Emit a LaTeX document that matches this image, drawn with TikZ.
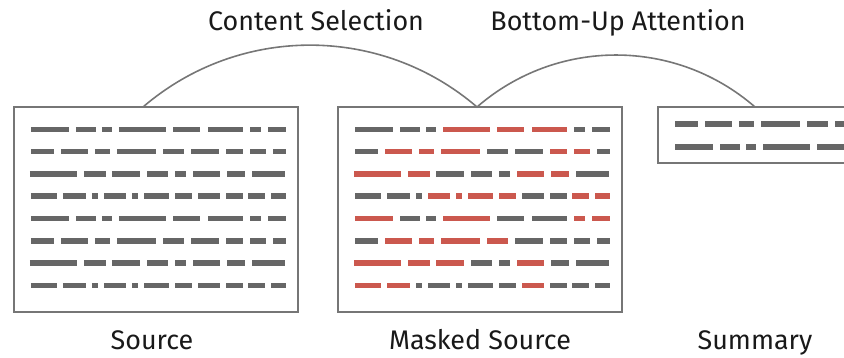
\documentclass[tikz,border=0pt]{standalone}
\usepackage{fontspec}
\setmainfont{Fira Sans}
\usepackage{tikz}
\usetikzlibrary{positioning}

\definecolor{boxgray}{RGB}{118,118,118}
\definecolor{wordgray}{RGB}{102,102,102}
\definecolor{maskred}{RGB}{203,88,78}

\newcommand\rowa{17/55,62/82,88/98,105/152,159/186,194/229,236/247,254/272}
\newcommand\rowb{17/40,47/74,81/96,103/142,149/170,177/205,212/229,236/252,259/272}
\newcommand\rowc{16/63,70/92,98/126,133/154,161/172,179/206,213/231,238/271}
\newcommand\rowd{17/43,49/72,78/84,90/112,118/124,130/155,161/178,184/206,212/229,234/251,257/272}
\newcommand\nomask{0,0,0,0,0,0,0,0,0,0,0}
\newcommand\wordrow[4]{\foreach \s/\e [count=\i from 0] in #3 {
\pgfmathtruncatemacro\m{{#4}[\i]}
\ifnum\m=1 \def\wcol{maskred}\else\def\wcol{wordgray}\fi
\draw[word,draw=\wcol] ([shift={(\s,#2)}]#1.north west) -- ([shift={(\e,#2)}]#1.north west);
}}

\begin{document}
\begin{tikzpicture}[x=1bp,y=-1bp,
box/.style={draw=boxgray,line width=1.8bp,minimum width=284bp,minimum height=205bp,inner sep=0pt,outer sep=0pt},
word/.style={line width=5.5bp,line cap=butt},
link/.style={draw=boxgray,line width=1.6bp},
lbl/.style={font=\fontsize{27}{32}\selectfont,anchor=base,inner sep=0pt,text=black!90}]
\useasboundingbox (0,0) rectangle (844,357);

\node[box] (src) at (156,209.5) {}; \node[box, right=40bp of src] (msk) {};
\node[box, minimum width=230bp, minimum height=56bp, anchor=north west] (sum) at ([xshift=36bp]msk.north east) {};

\wordrow{src}{22.3}{\rowa}{\nomask} \wordrow{src}{44.6}{\rowb}{\nomask}
\wordrow{src}{66.9}{\rowc}{\nomask} \wordrow{src}{89.2}{\rowd}{\nomask}
\wordrow{src}{111.5}{\rowa}{\nomask} \wordrow{src}{133.8}{\rowb}{\nomask}
\wordrow{src}{156.1}{\rowc}{\nomask} \wordrow{src}{178.4}{\rowd}{\nomask}

\wordrow{msk}{22.3}{\rowa}{0,0,0,1,1,1,0,0} \wordrow{msk}{44.6}{\rowb}{0,1,1,1,0,0,1,1,0}
\wordrow{msk}{66.9}{\rowc}{1,1,0,0,0,1,1,0} \wordrow{msk}{89.2}{\rowd}{0,0,0,1,1,1,1,0,0,1,1}
\wordrow{msk}{111.5}{\rowa}{1,0,0,1,0,0,1,1} \wordrow{msk}{133.8}{\rowb}{0,1,1,1,1,0,0,0,0}
\wordrow{msk}{156.1}{\rowc}{1,1,1,0,0,1,0,0} \wordrow{msk}{178.4}{\rowd}{1,1,0,0,0,0,0,1,0,0,0}

\wordrow{sum}{17}{\rowb}{\nomask} \wordrow{sum}{40}{\rowa}{\nomask}

\coordinate (a1) at ([xshift=-13bp]src.north); \coordinate (a2) at ([xshift=-3bp]msk.north);
\coordinate (a3) at ([xshift=97bp]sum.north west);
\draw[link] (a1) .. controls +(96,-82.5) and +(-96,-82.5) .. (a2) .. controls +(79.7,-69.3) and +(-79.7,-69.3) .. (a3);

\node[lbl] (cs) at (316,30) {Content Selection}; \node[lbl] (bu) at (618,30) {Bottom-Up Attention};
\node[lbl] (srcl) at (152,349) {Source}; \node[lbl] (mskl) at (480,349) {Masked Source};
\node[lbl] (suml) at (755,349) {Summary};
\end{tikzpicture}
\end{document}
